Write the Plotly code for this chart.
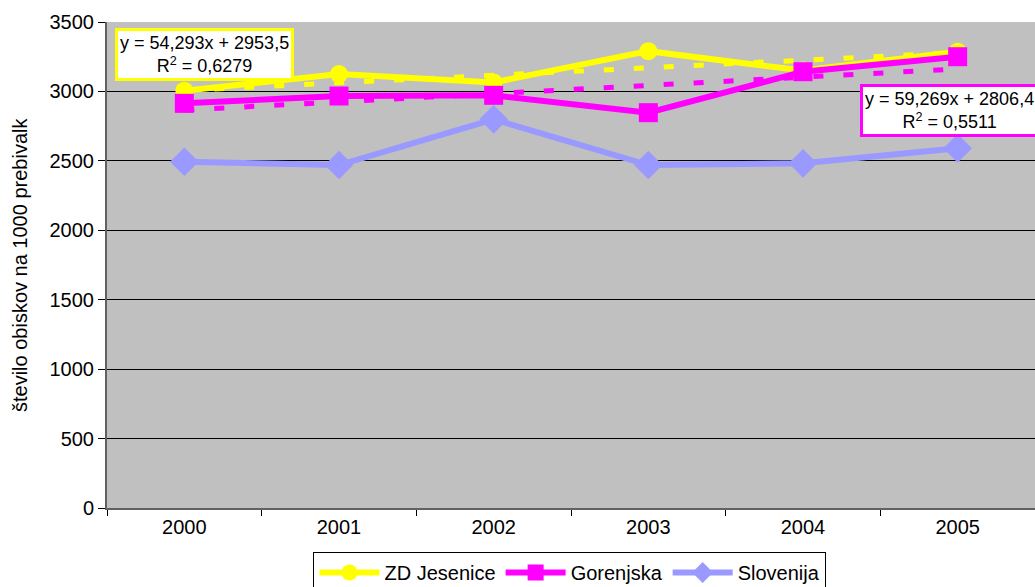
import plotly.graph_objects as go

years = ["2000", "2001", "2002", "2003", "2004", "2005"]
zd_jesenice = [3005, 3125, 3065, 3290, 3150, 3285]
gorenjska = [2914, 2967, 2972, 2847, 3142, 3250]
slovenija = [2494, 2470, 2799, 2470, 2482, 2590]

# linear trend coefficients as printed on the chart (x = 1..6)
trend_zd = (54.293, 2953.5)
trend_gor = (59.269, 2806.4)

YELLOW = "#FFFF00"
MAGENTA = "#FF00FF"
BLUE = "#9999FF"
FONT = "Liberation Sans, Arial, sans-serif"

fig = go.Figure()

idx = list(range(1, len(years) + 1))
fig.add_trace(go.Scatter(x=years, y=slovenija, name="Slovenija", mode="lines+markers",
                         line=dict(color=BLUE, width=6),
                         marker=dict(symbol="diamond", size=22, color=BLUE),
                         legendrank=3))
fig.add_trace(go.Scatter(x=years, y=[trend_zd[0] * i + trend_zd[1] for i in idx],
                         mode="lines", line=dict(color=YELLOW, width=5, dash="10px,20px"),
                         showlegend=False, hoverinfo="skip"))
fig.add_trace(go.Scatter(x=years, y=[trend_gor[0] * i + trend_gor[1] for i in idx],
                         mode="lines", line=dict(color=MAGENTA, width=5, dash="10px,20px"),
                         showlegend=False, hoverinfo="skip"))
fig.add_trace(go.Scatter(x=years, y=zd_jesenice, name="ZD Jesenice", mode="lines+markers",
                         line=dict(color=YELLOW, width=6),
                         marker=dict(symbol="circle", size=18, color=YELLOW),
                         legendrank=1))
fig.add_trace(go.Scatter(x=years, y=gorenjska, name="Gorenjska", mode="lines+markers",
                         line=dict(color=MAGENTA, width=6),
                         marker=dict(symbol="square", size=19, color=MAGENTA),
                         legendrank=2))

fig.update_layout(
    width=1035, height=587,
    margin=dict(l=107, r=0, t=22, b=79, autoexpand=False),
    paper_bgcolor="white",
    plot_bgcolor="#C0C0C0",
    font=dict(family=FONT, size=20, color="black"),
    showlegend=True,
    legend=dict(orientation="h", x=0.4989, xanchor="center",
                yref="container", y=0.0596, yanchor="top",
                bordercolor="#000000", borderwidth=1, bgcolor="white",
                font=dict(size=20), traceorder="normal", itemwidth=60,
                tracegroupgap=0),
    xaxis=dict(type="category", tickson="boundaries", ticks="outside", ticklen=6,
               tickcolor="#000000", showgrid=False, showline=True, linecolor="#606060",
               linewidth=2, range=[-0.5, 5.5], tickfont=dict(size=20)),
    yaxis=dict(range=[0, 3500], dtick=500, ticks="outside", ticklen=7,
               tickcolor="#000000", showgrid=True, gridcolor="#000000", gridwidth=1,
               showline=True, linecolor="#606060", linewidth=2, mirror=True,
               zeroline=False, tickfont=dict(size=20)),
    annotations=[
        dict(xref="paper", yref="paper", x=-0.0937, y=0.5, xanchor="center", yanchor="middle",
             text="število obiskov na 1000 prebivalk", textangle=-90, showarrow=False,
             font=dict(size=20)),
        dict(xref="paper", yref="paper", x=0.0086, y=0.9877, xanchor="left", yanchor="top",
             text="y = 54,293x + 2953,5<br>R<sup>2</sup> = 0,6279", showarrow=False,
             align="center", bgcolor="white", bordercolor=YELLOW, borderwidth=3,
             borderpad=2, font=dict(size=18)),
        dict(xref="paper", yref="paper", x=0.8114, y=0.8724, xanchor="left", yanchor="top",
             text="y = 59,269x + 2806,4<br>R<sup>2</sup> = 0,5511", showarrow=False,
             align="center", bgcolor="white", bordercolor=MAGENTA, borderwidth=3,
             borderpad=2, font=dict(size=18)),
    ],
)

fig.write_html("out.html", config={"displayModeBar": False},
               post_script="document.body.style.margin='0';document.body.style.overflow='hidden';")
